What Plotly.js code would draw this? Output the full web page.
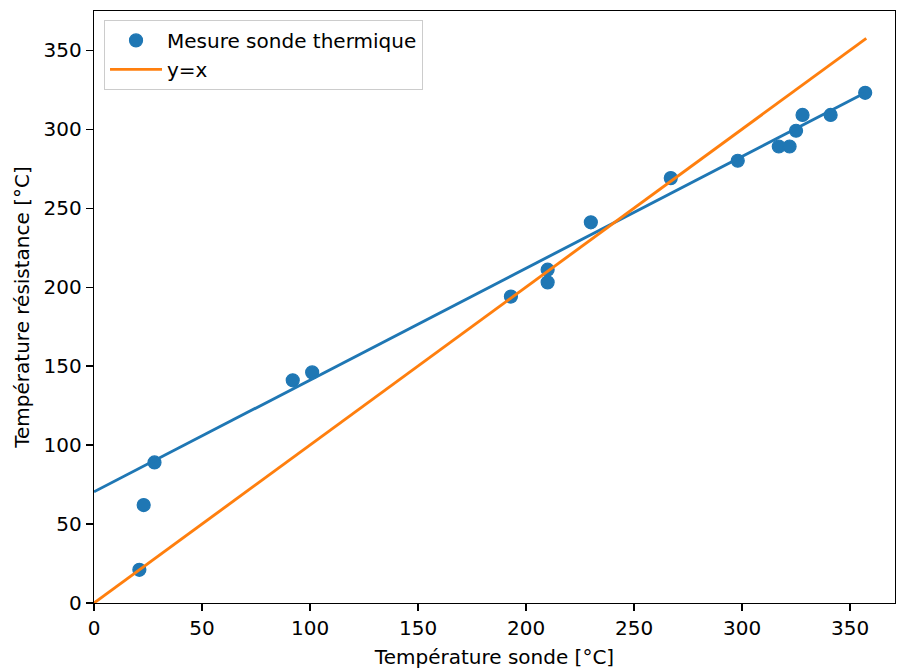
<!DOCTYPE html>
<html>
<head>
<meta charset="utf-8">
<script src="https://cdn.plot.ly/plotly-3.0.1.min.js"></script>
<style>
  html, body { margin: 0; padding: 0; background: #ffffff; }
  #chart { width: 897px; height: 670px; }
</style>
</head>
<body>
<div id="chart"></div>
<script>
// Measured points: probe temperature (x) vs resistance temperature (y)
const sondeTemp = [21, 23, 28, 92, 101, 193, 210, 210, 230, 267, 298, 317, 322, 325, 328, 341, 357];
const resistanceTemp = [21, 62, 89, 141, 146, 194, 211, 203, 241, 269, 280, 289, 289, 299, 309, 309, 323];

// Linear fit line
const fitX = [0, 357];
const fitY = [70.4, 323];

// Reference line y = x
const identityX = [0, 357.5];
const identityY = [0, 357.5];

const xTicks = [0, 50, 100, 150, 200, 250, 300, 350];
const yTicks = [0, 50, 100, 150, 200, 250, 300, 350];

const blue = '#1f77b4';
const orange = '#ff7f0e';
const font = 'DejaVu Sans, sans-serif';

const traces = [
  {
    x: sondeTemp, y: resistanceTemp,
    type: 'scatter', mode: 'markers',
    name: 'Mesure sonde thermique',
    marker: { color: blue, size: 13, line: { color: blue, width: 1.2 } }
  },
  {
    x: fitX, y: fitY,
    type: 'scatter', mode: 'lines',
    showlegend: false,
    line: { color: blue, width: 2.9 }
  },
  {
    x: identityX, y: identityY,
    type: 'scatter', mode: 'lines',
    name: 'y=x',
    line: { color: orange, width: 2.9 }
  }
];

const axisCommon = {
  showgrid: false,
  zeroline: false,
  showline: true,
  mirror: true,
  linecolor: '#000000',
  linewidth: 1.2,
  ticks: 'outside',
  ticklen: 7,
  tickwidth: 1.2,
  tickcolor: '#000000',
  tickfont: { family: font, size: 20, color: '#000000' },
  tickmode: 'array'
};

const layout = {
  width: 897,
  height: 670,
  margin: { l: 94, r: 2, t: 11, b: 67 },
  paper_bgcolor: '#ffffff',
  plot_bgcolor: '#ffffff',
  font: { family: font, size: 20, color: '#000000' },
  xaxis: Object.assign({}, axisCommon, {
    range: [0, 370.8],
    tickvals: xTicks,
    ticktext: xTicks.map(String),
    title: { text: 'Température sonde [°C]', font: { family: font, size: 20 }, standoff: 10 }
  }),
  yaxis: Object.assign({}, axisCommon, {
    range: [0, 374.8],
    tickvals: yTicks,
    ticktext: yTicks.map(String),
    title: { text: 'Température résistance [°C]', font: { family: font, size: 20 }, standoff: 8 }
  }),
  legend: {
    x: 0.0125, y: 0.985,
    xanchor: 'left', yanchor: 'top',
    bgcolor: 'rgba(255,255,255,0.8)',
    bordercolor: '#cccccc',
    borderwidth: 1,
    font: { family: font, size: 20, color: '#000000' },
    itemwidth: 52
  },
  showlegend: true
};

Plotly.newPlot('chart', traces, layout, { displayModeBar: false, staticPlot: true });
</script>
</body>
</html>
